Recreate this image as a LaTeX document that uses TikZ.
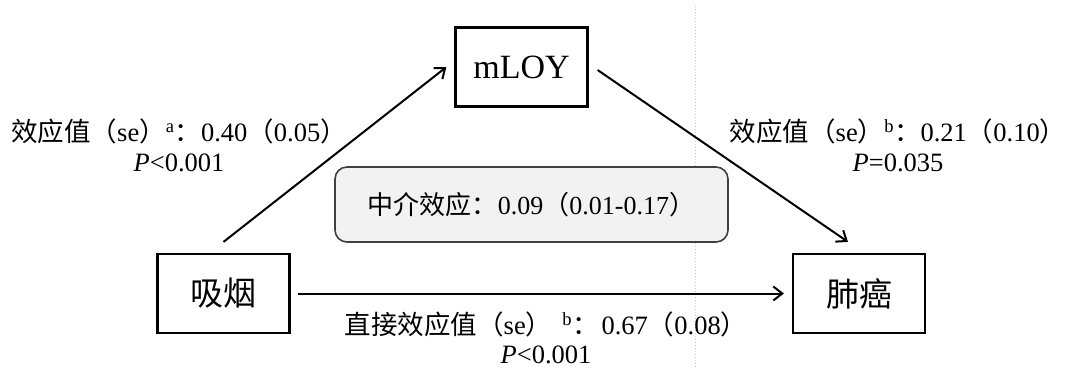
\documentclass[tikz,border=0pt]{standalone}
\usepackage{fontspec}
\setmainfont{Liberation Serif}
\newfontfamily\cjk{Noto Sans CJK SC}
\usetikzlibrary{arrows.meta}
\newcommand{\zh}[1]{{\cjk #1}}
\definecolor{guide}{RGB}{200,200,200}
\definecolor{medborder}{RGB}{64,64,64}
\definecolor{medfill}{RGB}{242,242,242}
\tikzset{
  varbox/.style={draw=black, line width=2.2pt, minimum width=132pt, minimum height=79pt, inner sep=0pt},
  arr/.style={line width=2pt, -{Straight Barb[length=9pt,width=14pt,line width=2pt]}},
  lbl/.style={align=center, inner sep=0pt, font=\fontsize{26.5}{30}\selectfont},
  medbox/.style={draw=medborder, line width=1.6pt, rounded corners=12pt, fill=medfill, minimum width=393pt, minimum height=75pt, inner sep=0pt, font=\fontsize{26}{30}\selectfont}
}
\begin{document}
\begin{tikzpicture}[x=1pt,y=-1pt]
\useasboundingbox (0,0) rectangle (1067,369);
\draw[guide, line width=1pt, dotted] (695,6) coordinate (g1) -- (695,369) coordinate (g2);
\node[varbox, font=\fontsize{34}{40}\selectfont] (mloy) at (521.5,67) {mLOY};
\node[varbox, font=\fontsize{33}{40}\selectfont] (smoke) at (223.5,293.5) {\zh{吸烟}};
\node[varbox, font=\fontsize{33}{40}\selectfont] (lung) at (859,293.5) {\zh{肺癌}};
\node[medbox] (med) at (531.5,204.5) {\zh{中介效应：}0.09\zh{（}0.01-0.17\zh{）}};
\draw[arr] ([yshift=11pt]smoke.north) -- ([xshift=-8pt]mloy.west);
\draw[arr] ([xshift=9pt,yshift=-3pt]mloy.east) -- ([xshift=-11pt,yshift=11pt]lung.north);
\draw[arr] ([xshift=7pt]smoke.east) -- ([xshift=-8pt]lung.west);
\node[lbl] (la) at (179,145) {\zh{效应值（}se\zh{）}\textsuperscript{a}\zh{：}0.40\zh{（}0.05\zh{）}\\\textit{P}<0.001};
\node[lbl] (lb) at (898,145) {\zh{效应值（}se\zh{）}\textsuperscript{b}\zh{：}0.21\zh{（}0.10\zh{）}\\\textit{P}=0.035};
\node[lbl, font=\fontsize{26.5}{29}\selectfont] (lc) at (546,338) {\zh{直接效应值（}se\zh{）}\hspace{10pt}\textsuperscript{b}\zh{：}\hspace{3pt}0.67\zh{（}0.08\zh{）}\\\textit{P}<0.001};
\end{tikzpicture}
\end{document}
